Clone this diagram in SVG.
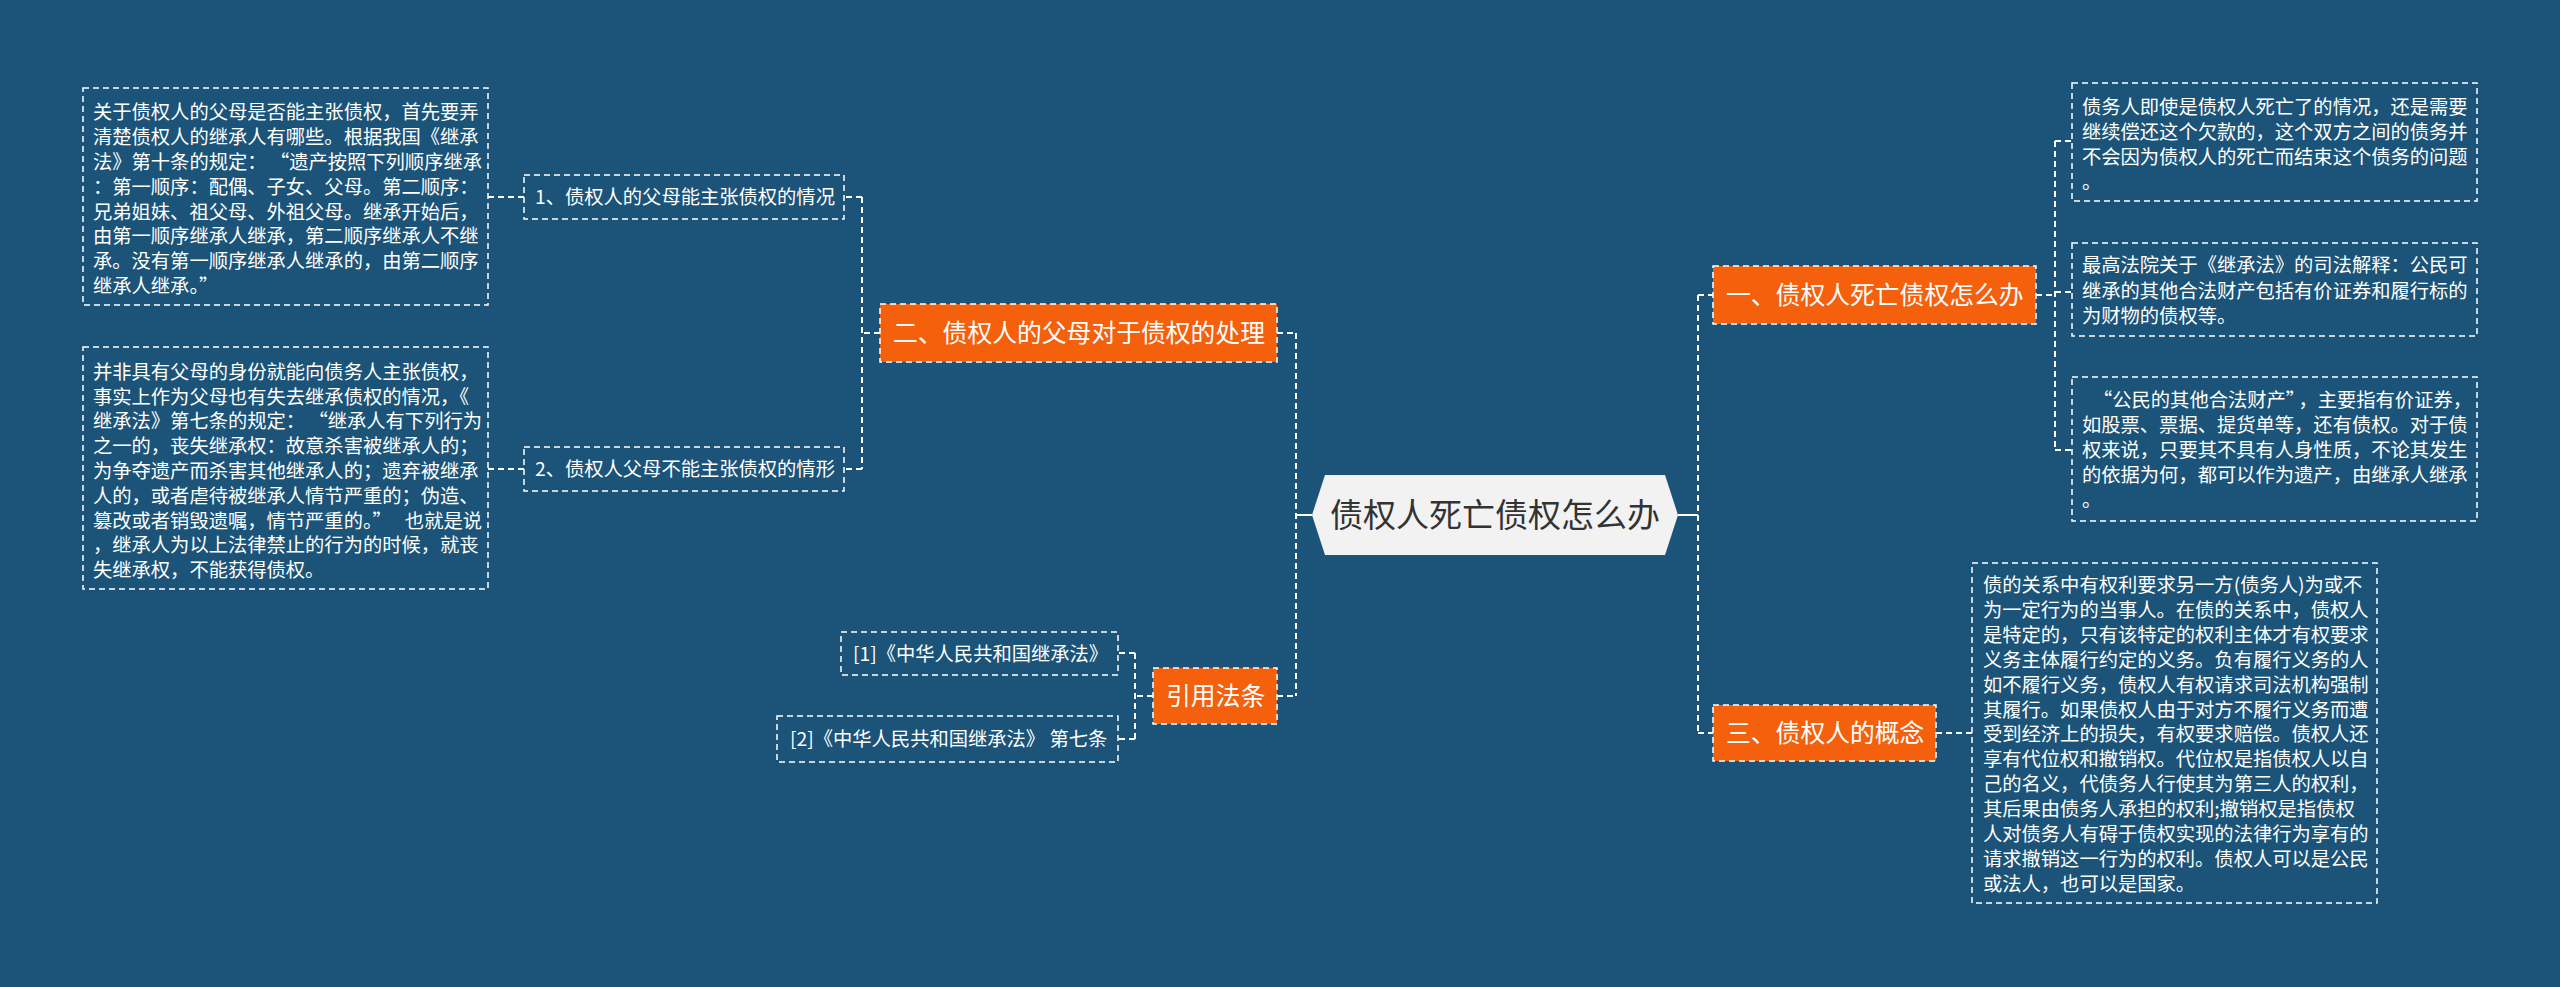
<svg xmlns="http://www.w3.org/2000/svg" width="2560" height="987" viewBox="0 0 2560 987">
<style>
.bg{fill:#1b5478}
.box{fill:none;stroke:#ffffff;stroke-width:1.5;stroke-dasharray:6 4}
.obox{fill:#f4600c;stroke:#ffffff;stroke-width:1.5;stroke-dasharray:6 4}
.conn{fill:none;stroke:#ffffff;stroke-width:2;stroke-dasharray:6 4}
.solid{fill:none;stroke:#ffffff;stroke-width:2}
.t{font-family:"Noto Sans CJK SC","Microsoft YaHei",sans-serif;font-size:19.3px;fill:#ffffff}
.ot{font-family:"Noto Sans CJK SC","Microsoft YaHei",sans-serif;font-size:24.8px;fill:#ffffff}
.ct{font-family:"Noto Sans CJK SC","Microsoft YaHei",sans-serif;font-size:33px;fill:#333333}
</style>
<rect class="bg" x="0" y="0" width="2560" height="987"/>

<g id="connectors">
  <path class="solid" d="M1312,515 H1296"/>
  <path class="conn" d="M1296,333 V696 M1277,333 H1296 M1277,696 H1296"/>
  <path class="solid" d="M1678,515 H1698"/>
  <path class="conn" d="M1698,295 V733 M1698,295 H1713 M1698,733 H1713"/>
  <path class="conn" d="M2036,295 H2055 M2055,141 V450 M2055,141 H2072 M2055,292 H2072 M2055,450 H2072"/>
  <path class="conn" d="M1936,733 H1972"/>
  <path class="conn" d="M880,333 H862 M862,197 V469 M862,197 H844 M862,469 H844"/>
  <path class="conn" d="M524,197 H488 M524,469 H488"/>
  <path class="conn" d="M1153,696 H1135 M1135,653 V739 M1135,653 H1118 M1135,739 H1118"/>
</g>

<g id="root">
  <polygon points="1312,515 1325,475 1665,475 1678,515 1665,555 1325,555" fill="#f2f2f2"/>
  <text class="ct" x="1495" y="527" text-anchor="middle">债权人死亡债权怎么办</text>
</g>

<g id="n1">
  <rect class="obox" x="1713" y="266" width="323" height="58"/>
  <text class="ot" x="1726" y="304">一、债权人死亡债权怎么办</text>
</g>
<g id="n1a">
  <rect class="box" x="2072" y="83" width="405" height="118"/>
  <text class="t"><tspan x="2082" y="114">债务人即使是债权人死亡了的情况，还是需要</tspan><tspan x="2082" y="139">继续偿还这个欠款的，这个双方之间的债务并</tspan><tspan x="2082" y="164">不会因为债权人的死亡而结束这个债务的问题</tspan><tspan x="2082" y="189">。</tspan></text>
</g>
<g id="n1b">
  <rect class="box" x="2072" y="243" width="405" height="93"/>
  <text class="t"><tspan x="2082" y="272">最高法院关于《继承法》的司法解释：公民可</tspan><tspan x="2082" y="298">继承的其他合法财产包括有价证券和履行标的</tspan><tspan x="2082" y="323">为财物的债权等。</tspan></text>
</g>
<g id="n1c">
  <rect class="box" x="2072" y="377" width="405" height="144"/>
  <text class="t"><tspan x="2093" y="407">“公民的其他合法财产”<tspan dx="3">，主要指有价证券，</tspan></tspan><tspan x="2082" y="432">如股票、票据、提货单等，还有债权。对于债</tspan><tspan x="2082" y="457">权来说，只要其不具有人身性质，不论其发生</tspan><tspan x="2082" y="482">的依据为何，都可以作为遗产，由继承人继承</tspan><tspan x="2082" y="507">。</tspan></text>
</g>

<g id="n3">
  <rect class="obox" x="1713" y="705" width="223" height="56"/>
  <text class="ot" x="1726" y="742">三、债权人的概念</text>
</g>
<g id="n3a">
  <rect class="box" x="1972" y="563" width="405" height="340"/>
  <text class="t"><tspan x="1983" y="592">债的关系中有权利要求另一方(债务人)为或不</tspan><tspan x="1983" y="617">为一定行为的当事人。在债的关系中，债权人</tspan><tspan x="1983" y="642">是特定的，只有该特定的权利主体才有权要求</tspan><tspan x="1983" y="667">义务主体履行约定的义务。负有履行义务的人</tspan><tspan x="1983" y="692">如不履行义务，债权人有权请求司法机构强制</tspan><tspan x="1983" y="717">其履行。如果债权人由于对方不履行义务而遭</tspan><tspan x="1983" y="741">受到经济上的损失，有权要求赔偿。债权人还</tspan><tspan x="1983" y="766">享有代位权和撤销权。代位权是指债权人以自</tspan><tspan x="1983" y="791">己的名义，代债务人行使其为第三人的权利，</tspan><tspan x="1983" y="816">其后果由债务人承担的权利;撤销权是指债权</tspan><tspan x="1983" y="841">人对债务人有碍于债权实现的法律行为享有的</tspan><tspan x="1983" y="866">请求撤销这一行为的权利。债权人可以是公民</tspan><tspan x="1983" y="891">或法人，也可以是国家。</tspan></text>
</g>

<g id="n2">
  <rect class="obox" x="880" y="304" width="397" height="58"/>
  <text class="ot" x="893" y="342">二、债权人的父母对于债权的处理</text>
</g>
<g id="n2a">
  <rect class="box" x="524" y="175" width="320" height="44"/>
  <text class="t" x="535" y="204">1、债权人的父母能主张债权的情况</text>
</g>
<g id="n2a1">
  <rect class="box" x="83" y="88" width="405" height="217"/>
  <text class="t"><tspan x="93" y="119">关于债权人的父母是否能主张债权，首先要弄</tspan><tspan x="93" y="144">清楚债权人的继承人有哪些。根据我国《继承</tspan><tspan x="93" y="169">法》第十条的规定：<tspan dx="13">“遗产按照下列顺序继承</tspan></tspan><tspan x="93" y="194">：第一顺序：配偶、子女、父母。第二顺序：</tspan><tspan x="93" y="219">兄弟姐妹、祖父母、外祖父母。继承开始后，</tspan><tspan x="93" y="243">由第一顺序继承人继承，第二顺序继承人不继</tspan><tspan x="93" y="268">承。没有第一顺序继承人继承的，由第二顺序</tspan><tspan x="93" y="293">继承人继承。”</tspan></text>
</g>
<g id="n2b">
  <rect class="box" x="524" y="447" width="320" height="44"/>
  <text class="t" x="535" y="476">2、债权人父母不能主张债权的情形</text>
</g>
<g id="n2b1">
  <rect class="box" x="83" y="347" width="405" height="242"/>
  <text class="t"><tspan x="93" y="379">并非具有父母的身份就能向债务人主张债权，</tspan><tspan x="93" y="404">事实上作为父母也有失去继承债权的情况，《</tspan><tspan x="93" y="428">继承法》第七条的规定：<tspan dx="13">“继承人有下列行为</tspan></tspan><tspan x="93" y="453">之一的，丧失继承权：故意杀害被继承人的；</tspan><tspan x="93" y="478">为争夺遗产而杀害其他继承人的；遗弃被继承</tspan><tspan x="93" y="503">人的，或者虐待被继承人情节严重的；伪造、</tspan><tspan x="93" y="528">篡改或者销毁遗嘱，情节严重的。”<tspan dx="13">也就是说</tspan></tspan><tspan x="93" y="552">，继承人为以上法律禁止的行为的时候，就丧</tspan><tspan x="93" y="577">失继承权，不能获得债权。</tspan></text>
</g>

<g id="n4">
  <rect class="obox" x="1153" y="668" width="124" height="56"/>
  <text class="ot" x="1166" y="705">引用法条</text>
</g>
<g id="n4a">
  <rect class="box" x="841" y="632" width="277" height="43"/>
  <text class="t" x="853" y="661">[1]《中华人民共和国继承法》</text>
</g>
<g id="n4b">
  <rect class="box" x="777" y="716" width="341" height="46"/>
  <text class="t" x="790" y="746">[2]《中华人民共和国继承法》 第七条</text>
</g>
</svg>
